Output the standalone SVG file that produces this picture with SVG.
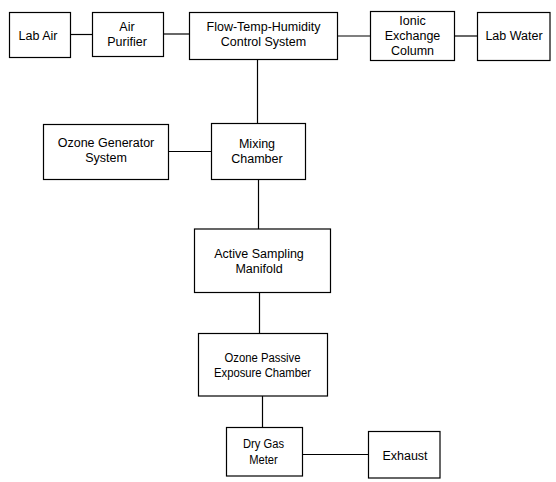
<svg xmlns="http://www.w3.org/2000/svg" width="556" height="482" viewBox="0 0 556 482">
<style>
rect{fill:#fff;stroke:#000;stroke-width:1.2}
line{stroke:#000;stroke-width:1.2}
text{font-family:"Liberation Sans",Arial,sans-serif;font-size:12.5px;text-anchor:middle;fill:#000}
</style>
<rect x="0" y="0" width="556" height="482" style="stroke:none"/>
<g id="connectors">
<line x1="70.5" y1="34.5" x2="92.5" y2="34.5"/>
<line x1="163.5" y1="34" x2="189.5" y2="34"/>
<line x1="337.5" y1="36" x2="370.5" y2="36"/>
<line x1="454.5" y1="36" x2="477.5" y2="36"/>
<line x1="257.5" y1="59.5" x2="257.5" y2="123.5"/>
<line x1="168.5" y1="151.5" x2="211.5" y2="151.5"/>
<line x1="258.5" y1="179.5" x2="258.5" y2="229"/>
<line x1="259.5" y1="292.5" x2="259.5" y2="333.5"/>
<line x1="262.5" y1="396" x2="262.5" y2="427.5"/>
<line x1="302.5" y1="454.5" x2="368.5" y2="454.5"/>
</g>
<g id="lab-air"><rect x="9.5" y="12.5" width="61" height="45"/><text x="38" y="39.5">Lab Air</text></g>
<g id="air-purifier"><rect x="92.5" y="12.5" width="71" height="44"/><text x="127" y="30.5">Air</text><text x="127" y="45.5">Purifier</text></g>
<g id="flow-temp"><rect x="189.5" y="12.5" width="148" height="47"/><text x="263.5" y="30.5">Flow-Temp-Humidity</text><text x="263.5" y="45.5">Control System</text></g>
<g id="ionic"><rect x="370.5" y="11.5" width="84" height="49"/><text x="412.5" y="25">Ionic</text><text x="412.5" y="39.8">Exchange</text><text x="412.5" y="54.5">Column</text></g>
<g id="lab-water"><rect x="477.5" y="12.5" width="72.5" height="48"/><text x="514" y="40">Lab Water</text></g>
<g id="ozone-generator"><rect x="43.5" y="124.5" width="125" height="55"/><text x="106" y="147.3">Ozone Generator</text><text x="106" y="162.3">System</text></g>
<g id="mixing-chamber"><rect x="211.5" y="123.5" width="94" height="56"/><text x="257" y="148.3">Mixing</text><text x="257" y="163.3">Chamber</text></g>
<g id="active-sampling"><rect x="194.5" y="229" width="136" height="63.5"/><text x="259" y="258.3">Active Sampling</text><text x="259" y="273.3">Manifold</text></g>
<g id="ozone-passive"><rect x="198.5" y="333.5" width="129" height="62.5"/><text x="262.5" y="361.7" textLength="76" lengthAdjust="spacingAndGlyphs">Ozone Passive</text><text x="262.5" y="377" textLength="97" lengthAdjust="spacingAndGlyphs">Exposure Chamber</text></g>
<g id="dry-gas-meter"><rect x="226.5" y="427.5" width="76" height="48.5"/><text x="263.5" y="448.3" textLength="41" lengthAdjust="spacingAndGlyphs">Dry Gas</text><text x="263.5" y="464" textLength="28.5" lengthAdjust="spacingAndGlyphs">Meter</text></g>
<g id="exhaust"><rect x="368.5" y="431.5" width="71.5" height="46.5"/><text x="405" y="460">Exhaust</text></g>
</svg>
